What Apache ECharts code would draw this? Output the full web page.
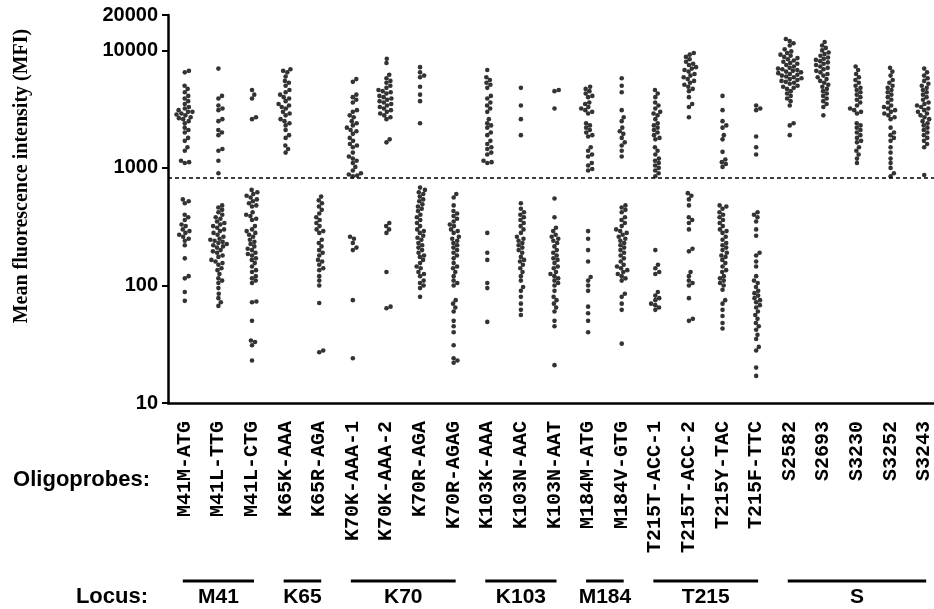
<!DOCTYPE html>
<html>
<head>
<meta charset="utf-8">
<script src="https://cdn.jsdelivr.net/npm/echarts@6/dist/echarts.min.js"></script>
<style>
  html, body { margin: 0; padding: 0; background: #fff; }
  #main { width: 934px; height: 609px; }
</style>
</head>
<body>
<div id="main"></div>
<script>
// oligoprobe names, in axis order
const categories = ['M41M-ATG', 'M41L-TTG', 'M41L-CTG', 'K65K-AAA', 'K65R-AGA',
  'K70K-AAA-1', 'K70K-AAA-2', 'K70R-AGA', 'K70R-AGAG', 'K103K-AAA', 'K103N-AAC',
  'K103N-AAT', 'M184M-ATG', 'M184V-GTG', 'T215T-ACC-1', 'T215T-ACC-2', 'T215Y-TAC',
  'T215F-TTC', 'S2582', 'S2693', 'S3230', 'S3252', 'S3243']

// locus groups: name, first and last probe index
const locusNames = ['M41', 'K65', 'K70', 'K103', 'M184', 'T215', 'S']
const locusFirst = [0, 3, 5, 9, 12, 14, 18]
const locusLast = [2, 4, 8, 11, 13, 17, 22]

const yTicks = [10, 100, 1000, 10000, 20000]
const cutoff = 820

// MFI per probe
const m41mATG = [6700, 6500, 5000, 4700, 4400, 4100, 3900, 3700, 3500, 3300, 3200, 3100, 3000, 3000, 2900, 2850, 2800, 2700, 2650, 2600, 2500, 2400, 2200, 2100, 2000, 1800, 1700, 1500, 1400, 1150, 1120, 1100,
  540, 520, 500, 400, 380, 360, 330, 320, 300, 290, 280, 270, 260, 250, 240, 220, 170, 120, 115, 88, 74]
const m41lTTG = [7000, 4100, 3900, 3400, 3200, 3100, 2600, 2500, 2100, 2000, 1900, 1450, 1400, 1150, 900,
  480, 460, 440, 420, 400, 380, 370, 350, 340, 330, 320, 310, 300, 290, 280, 270, 260, 250, 245, 240, 235, 230, 225, 220, 215, 210, 200, 195, 190, 180, 175, 165, 160, 155, 150, 140, 135, 125, 115, 110, 105, 95, 85, 78, 72, 67]
const m41lCTG = [4600, 4200, 3900, 2700, 2600,
  650, 620, 600, 580, 560, 540, 520, 500, 480, 470, 420, 400, 390, 370, 360, 320, 300, 290, 280, 270, 260, 245, 235, 225, 215, 205, 200, 190, 185, 180, 170, 165, 155, 145, 135, 130, 120, 115, 110, 105, 73, 72, 50, 34, 33, 31, 23]
const k65kAAA = [6900, 6700, 6500, 6000, 5500, 5300, 5000, 4600, 4400, 4200, 4000, 3900, 3700, 3500, 3400, 3300, 3200, 3000, 2900, 2800, 2600, 2500, 2400, 2300, 2100, 1900, 1800, 1550, 1450, 1350]
const k65rAGA = [570, 530, 500, 470, 440, 410, 380, 360, 340, 320, 300, 290, 280, 245, 230, 215, 200, 190, 180, 165, 160, 150, 140, 135, 120, 110, 100, 71, 28, 27]
const k70kAAA1 = [5700, 5400, 4200, 4000, 3800, 3600, 3100, 3000, 2800, 2700, 2500, 2400, 2300, 2200, 2100, 2050, 1950, 1800, 1700, 1600, 1550, 1500, 1350, 1250, 1200, 1150, 1100, 1020, 950, 900, 880, 860, 850,
  260, 250, 230, 210, 200, 75, 24]
const k70kAAA2 = [8500, 7800, 6200, 5800, 5500, 5300, 5000, 4800, 4600, 4500, 4400, 4300, 4100, 4000, 3900, 3800, 3700, 3600, 3500, 3400, 3300, 3200, 3100, 3000, 2900, 2800, 2700, 2600, 1750, 1650,
  340, 320, 300, 280, 130, 66, 64]
const k70rAGA = [7200, 6500, 6100, 5900, 4900, 4200, 3700, 2400,
  680, 650, 620, 600, 570, 540, 520, 490, 470, 450, 430, 400, 380, 360, 340, 320, 300, 290, 280, 265, 255, 245, 230, 220, 210, 200, 190, 180, 175, 165, 155, 145, 140, 130, 125, 120, 110, 105, 100, 95, 80]
const k70rAGAG = [600, 560, 480, 430, 410, 390, 370, 350, 330, 320, 300, 290, 280, 260, 250, 240, 230, 220, 210, 200, 190, 180, 170, 155, 145, 140, 130, 120, 110, 105, 100, 75, 70, 65, 60, 50, 45, 40, 31, 24, 23, 22]
const k103kAAA = [6800, 5900, 5600, 5300, 5100, 4800, 4100, 3900, 3600, 3400, 3200, 3000, 2600, 2400, 2300, 2200, 2000, 1900, 1700, 1600, 1500, 1450, 1350, 1300, 1150, 1120, 1100,
  280, 190, 165, 105, 95, 49]
const k103nAAC = [4800, 3400, 2600, 1900,
  500, 450, 420, 400, 380, 360, 340, 320, 300, 280, 260, 250, 240, 230, 220, 210, 200, 190, 175, 165, 160, 150, 140, 130, 120, 110, 97, 90, 80, 70, 62, 56]
const k103nAAT = [4600, 4500, 3200,
  550, 380, 310, 290, 270, 260, 250, 240, 230, 215, 200, 190, 180, 170, 165, 155, 145, 140, 130, 125, 120, 115, 110, 105, 100, 90, 80, 75, 70, 65, 60, 50, 45, 21]
const m184mATG = [4900, 4700, 4500, 4300, 4100, 4000, 3600, 3500, 3300, 3200, 3100, 3000, 2900, 2400, 2300, 2200, 2100, 2000, 1900, 1850, 1500, 1400, 1300, 1250, 1100, 1050, 980, 950,
  290, 250, 200, 160, 118, 110, 100, 90, 66, 58, 50, 40]
const m184vGTG = [5800, 5000, 4400, 3100, 2700, 2500, 2200, 2050, 1950, 1800, 1650, 1550, 1400, 1250,
  480, 460, 440, 420, 380, 360, 340, 320, 300, 290, 280, 270, 260, 250, 240, 230, 220, 210, 200, 190, 180, 170, 160, 150, 145, 140, 135, 130, 125, 120, 115, 110, 85, 80, 70, 62, 32]
const t215tACC1 = [4600, 4300, 4000, 3600, 3400, 3200, 3000, 2900, 2800, 2600, 2400, 2300, 2200, 2100, 2000, 1900, 1800, 1750, 1500, 1400, 1300, 1200, 1150, 1100, 1050, 1000, 950, 900, 850,
  200, 150, 140, 130, 125, 88, 82, 78, 75, 70, 68, 65, 62]
const t215tACC2 = [9500, 9200, 8800, 8400, 8000, 7700, 7500, 7200, 7000, 6800, 6600, 6300, 6100, 5900, 5700, 5500, 5300, 5100, 4900, 4700, 4500, 4000, 3500, 3300, 2700,
  610, 580, 540, 480, 380, 360, 340, 300, 205, 195, 130, 120, 110, 105, 100, 78, 52, 50]
const t215yTAC = [4100, 3100, 2500, 2300, 2200, 1900, 1750, 1370, 1180, 1120, 1080, 1020,
  480, 470, 450, 420, 400, 380, 360, 340, 320, 300, 290, 280, 260, 245, 230, 220, 210, 200, 190, 180, 175, 165, 155, 145, 135, 130, 120, 115, 110, 105, 100, 92, 75, 70, 62, 55, 48, 43]
const t215fTTC = [3400, 3200, 3100, 1850, 1500, 1300,
  420, 400, 380, 350, 300, 265, 190, 180, 160, 145, 120, 110, 105, 97, 90, 86, 82, 78, 75, 72, 68, 65, 60, 56, 52, 48, 45, 42, 38, 35, 30, 28, 20, 17]
const s2582 = [12500, 12000, 11500, 11000, 10200, 9800, 9500, 9200, 9000, 8800, 8600, 8400, 8200, 8000, 7800, 7700, 7500, 7300, 7100, 7000, 6900, 6800, 6700, 6600, 6500, 6400, 6300, 6200, 6100, 6000, 5900, 5800, 5700, 5600, 5500, 5400, 5300, 5200, 5000, 4900, 4800, 4700, 4500, 4300, 4100, 3900, 3700, 3400, 2400, 2300, 1900]
const s2693 = [11800, 11000, 10500, 10000, 9600, 9300, 9000, 8700, 8500, 8300, 8100, 7900, 7700, 7500, 7300, 7100, 6900, 6700, 6500, 6300, 6100, 5900, 5700, 5500, 5300, 5100, 4900, 4700, 4500, 4300, 4100, 3900, 3700, 3500, 3300, 2800]
const s3230 = [7300, 6800, 6300, 5900, 5600, 5300, 5000, 4800, 4600, 4400, 4200, 4000, 3800, 3600, 3400, 3200, 3100, 3000, 2900, 2400, 2300, 2200, 2100, 2000, 1900, 1800, 1700, 1650, 1500, 1400, 1300, 1200, 1100]
const s3252 = [7100, 6600, 6100, 5600, 5300, 5000, 4800, 4600, 4400, 4200, 4000, 3800, 3600, 3400, 3300, 3200, 3100, 3000, 2900, 2800, 2700, 2600, 2200, 2000, 1900, 1800, 1700, 1500, 1350, 1200, 1100, 1000, 900, 850]
const s3243 = [7000, 6500, 6100, 5800, 5500, 5200, 5000, 4800, 4600, 4400, 4200, 4000, 3800, 3600, 3500, 3400, 3300, 3200, 3100, 3000, 2900, 2800, 2700, 2600, 2500, 2400, 2300, 2200, 2100, 2000, 1900, 1800, 1700, 1600, 1500, 870]

const probeValues = [m41mATG, m41lTTG, m41lCTG, k65kAAA, k65rAGA, k70kAAA1, k70kAAA2, k70rAGA,
  k70rAGAG, k103kAAA, k103nAAC, k103nAAT, m184mATG, m184vGTG, t215tACC1, t215tACC2, t215yTAC,
  t215fTTC, s2582, s2693, s3230, s3252, s3243]

const BOLD_SANS = "'Liberation Sans', Arial, sans-serif"
const DOT = 4.6
const GAP = 4.4 // dots may touch, like the original

const chart = echarts.init(document.getElementById('main'))

chart.setOption({
  animation: false,
  grid: { left: 168, top: 15, width: 773, height: 388, outerBoundsMode: 'none' },
  xAxis: [
    {
      type: 'category',
      data: categories,
      boundaryGap: true,
      axisLine: { onZero: false, lineStyle: { color: '#000', width: 2.5 } },
      axisTick: { alignWithLabel: true, length: 8, lineStyle: { color: '#000', width: 2 } },
      axisLabel: {
        interval: 0,
        rotate: 90,
        margin: 18,
        color: '#000',
        fontFamily: "'Liberation Mono', 'Courier New', monospace",
        fontWeight: 'bold',
        fontSize: 20
      }
    },
    { type: 'value', min: -0.5, max: 22.5, show: false }
  ],
  yAxis: {
    type: 'log',
    logBase: 10,
    min: 10,
    max: 20000,
    axisLine: { show: true, onZero: false, lineStyle: { color: '#000', width: 2.5 } },
    axisTick: { show: true, length: 6, customValues: yTicks, lineStyle: { color: '#000', width: 2 } },
    axisLabel: {
      customValues: yTicks,
      formatter: v => String(Math.round(v)),
      margin: 10,
      color: '#000',
      fontFamily: BOLD_SANS,
      fontWeight: 'bold',
      fontSize: 20
    },
    splitLine: { show: false },
    minorTick: { show: false }
  },
  series: []
})

// simple beeswarm: put each dot as close to the centre as it can go without overlap
function swarm (ys, d) {
  const order = ys.map((y, i) => i).sort((a, b) => ys[b] - ys[a])
  const placed = []
  const out = new Array(ys.length)
  order.forEach(idx => {
    const y = ys[idx]
    const near = placed.filter(p => Math.abs(p.y - y) < d)
    const cands = [0]
    near.forEach(p => {
      const dx = Math.sqrt(d * d - (p.y - y) * (p.y - y))
      cands.push(p.x + dx, p.x - dx)
    })
    cands.sort((a, b) => Math.abs(a) - Math.abs(b))
    let x = 0
    for (const c of cands) {
      if (near.every(p => (p.x - c) * (p.x - c) + (p.y - y) * (p.y - y) >= d * d - 0.01)) { x = c; break }
    }
    placed.push({ x: x, y: y })
    out[idx] = x
  })
  return out
}

const band = chart.convertToPixel({ xAxisIndex: 1 }, 1) - chart.convertToPixel({ xAxisIndex: 1 }, 0)
const dots = []
probeValues.forEach((vals, i) => {
  const ys = vals.map(v => chart.convertToPixel({ yAxisIndex: 0 }, v))
  const offs = swarm(ys, GAP)
  vals.forEach((v, k) => dots.push([i + offs[k] / band, v]))
})

// locus brackets under the probe names
const graphics = []
const lineY = 581
locusNames.forEach((name, g) => {
  const x1 = chart.convertToPixel({ xAxisIndex: 1 }, locusFirst[g]) - 2
  const x2 = chart.convertToPixel({ xAxisIndex: 1 }, locusLast[g]) + 2
  graphics.push({
    type: 'line',
    shape: { x1: x1, y1: lineY, x2: x2, y2: lineY },
    style: { stroke: '#000', lineWidth: 3 }
  })
  graphics.push({
    type: 'text',
    x: (x1 + x2) / 2,
    y: 597,
    style: { text: name, align: 'center', verticalAlign: 'middle', fill: '#000', font: 'bold 21px ' + BOLD_SANS }
  })
})
graphics.push({
  type: 'text', x: 150, y: 480,
  style: { text: 'Oligoprobes:', align: 'right', verticalAlign: 'middle', fill: '#000', font: 'bold 22px ' + BOLD_SANS }
})
graphics.push({
  type: 'text', x: 148, y: 597,
  style: { text: 'Locus:', align: 'right', verticalAlign: 'middle', fill: '#000', font: 'bold 22px ' + BOLD_SANS }
})
graphics.push({
  type: 'text', x: 22, y: 176, rotation: Math.PI / 2,
  style: {
    text: 'Mean fluorescence intensity (MFI)', align: 'center', verticalAlign: 'middle', fill: '#000',
    font: "bold 20px 'Liberation Serif', 'Times New Roman', serif"
  }
})

chart.setOption({
  graphic: graphics,
  series: [{
    type: 'scatter',
    xAxisIndex: 1,
    yAxisIndex: 0,
    symbolSize: DOT,
    itemStyle: { color: '#000' },
    data: dots,
    markLine: {
      silent: true,
      symbol: 'none',
      label: { show: false },
      lineStyle: { color: '#000', width: 1.5, type: [4, 3] },
      data: [{ yAxis: cutoff }]
    }
  }]
})
</script>
</body>
</html>
